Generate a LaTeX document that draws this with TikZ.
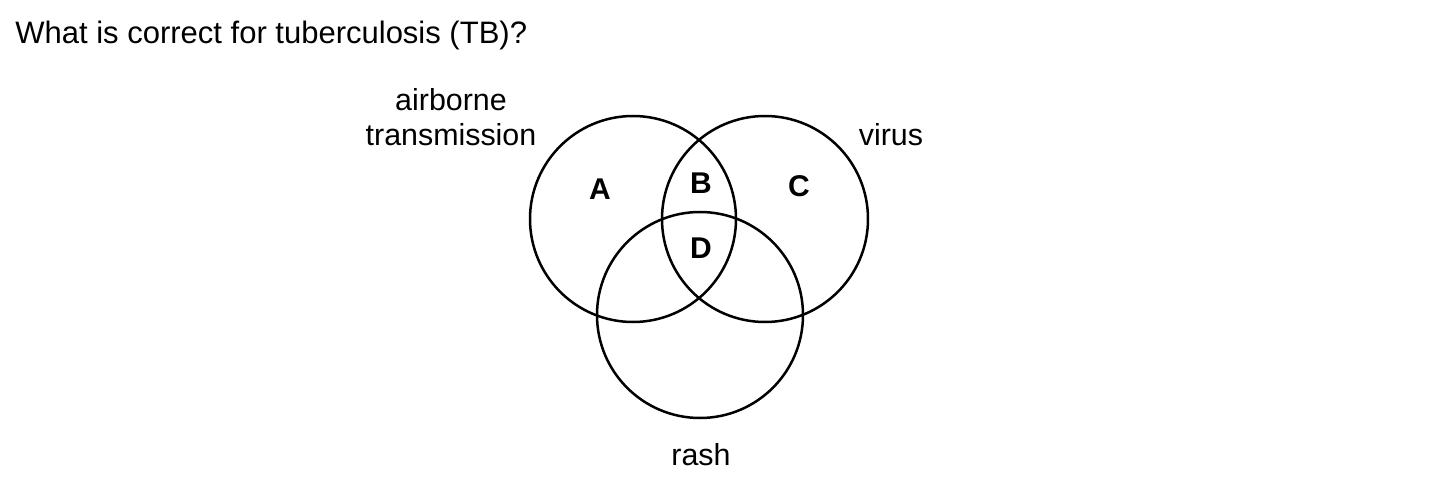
\documentclass[tikz,border=0pt]{standalone}
\usepackage{fontspec}
\setmainfont{Liberation Sans}
\begin{document}
\begin{tikzpicture}[x=0.5pt,y=-0.5pt,
  venn/.style={draw=black,line width=1.25pt},
  lbl/.style={font=\fontsize{15.2pt}{18pt}\selectfont,inner sep=0pt,anchor=base},
  region/.style={font=\fontsize{15pt}{18pt}\selectfont\bfseries,inner sep=0pt,anchor=base},
  title/.style={font=\fontsize{15.5pt}{18pt}\selectfont,inner sep=0pt,anchor=base west}]
\useasboundingbox (0,0) rectangle (1432,492);
\node[title] (t) at (15,44) {What is correct for tuberculosis (TB)?};
\node[venn,circle,minimum size=206pt*0.5,inner sep=0pt] (L) at (633,219) {};
\node[venn,circle,minimum size=206pt*0.5,inner sep=0pt] (R) at (765,219) {};
\node[venn,circle,minimum size=206pt*0.5,inner sep=0pt] (Bc) at (700,315) {};
\node[lbl] (air) at (451,111) {airborne};
\node[lbl] (tr) at (451,146) {transmission};
\node[lbl] (vir) at (891,146) {virus};
\node[lbl] (ras) at (701,466) {rash};
\node[region] (A) at (600,200) {A};
\node[region] (B) at (701,194) {B};
\node[region] (C) at (799,197) {C};
\node[region] (D) at (701,258) {D};
\end{tikzpicture}
\end{document}
